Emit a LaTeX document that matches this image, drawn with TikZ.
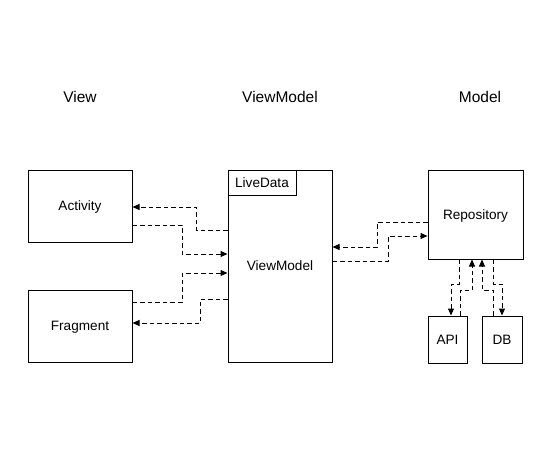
\documentclass[tikz,border=0pt]{standalone}
\usepackage{fontspec}
\setmainfont{Liberation Sans}
\usetikzlibrary{arrows.meta}
\begin{document}
\begin{tikzpicture}[x=1pt,y=-1pt,
  box/.style={draw=black,line width=1pt,rectangle,inner sep=0pt,font=\fontsize{13.6}{16}\selectfont,text height=9.7pt,text depth=0pt},
  title/.style={font=\fontsize{15.5}{18}\selectfont,inner sep=0pt,text height=11.1pt,text depth=0pt},
  dar/.style={draw=black,line width=1pt,dash pattern=on 4.5pt off 3pt,-{Triangle[length=7pt,width=6pt]}}]
\useasboundingbox (0,0) rectangle (552,453);
\fill[white] (0,0) rectangle (552,453);
% titles
\node[title] (tv) at (80,97) {View};
\node[title] (tvm) at (280,97) {ViewModel};
\node[title] (tm) at (480,97) {Model};
% boxes
\node[box,minimum width=104pt,minimum height=72pt] (act) at (80,206) {Activity};
\node[box,minimum width=104pt,minimum height=72pt] (frag) at (80,326) {Fragment};
\node[box,minimum width=104pt,minimum height=192pt] (vm) at (280,266) {ViewModel};
\node[box,minimum width=68pt,minimum height=25pt] (ld) at (262,182.5) {LiveData};
\node[box,minimum width=95pt,minimum height=89pt] (repo) at (475.5,214.5) {Repository};
\node[box,minimum width=39pt,minimum height=47pt] (api) at (447.5,339.5) {API};
\node[box,minimum width=40pt,minimum height=47pt] (db) at (502,339.5) {DB};
% View <-> ViewModel
\draw[dar] (vm.west|-0,230) -| (196,207) -- (act.east|-0,207);
\draw[dar] (act.east|-0,225) -| (182,254) -- (vm.west|-0,254);
\draw[dar] (frag.east|-0,302) -| (182,273) -- (vm.west|-0,273);
\draw[dar] (vm.west|-0,299) -| (200,323) -- (frag.east|-0,323);
% ViewModel <-> Repository
\draw[dar] (repo.west|-0,222) -| (377,247) -- (vm.east|-0,247);
\draw[dar] (vm.east|-0,261) -| (388,236) -- (repo.west|-0,236);
% Repository <-> API/DB
\draw[dar] (repo.south-|459,0) |- (451,284) -- (api.north-|451,0);
\draw[dar] (api.north-|460,0) |- (472,290) -- (repo.south-|472,0);
\draw[dar] (db.north-|493,0) |- (482,290) -- (repo.south-|482,0);
\draw[dar] (repo.south-|493,0) |- (502,284) -- (db.north-|502,0);
\end{tikzpicture}
\end{document}
